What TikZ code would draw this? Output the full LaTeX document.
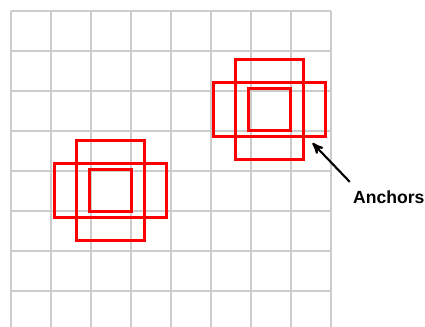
\documentclass[tikz,border=0pt]{standalone}
\usepackage{fontspec}
\setmainfont{Liberation Sans}
\usetikzlibrary{arrows,positioning}

\begin{document}
\begin{tikzpicture}[
    x=0.02cm, y=-0.02cm,
    grid line/.style={draw=black!20, line width=0.6pt},
    box/.style={draw=red, line width=1.3pt, inner sep=0pt},
    tall box/.style={box, minimum width=1.36cm, minimum height=2cm},
    wide box/.style={box, minimum width=2.24cm, minimum height=1.08cm},
    small box/.style={box, minimum width=0.84cm, minimum height=0.84cm},
    pile/.style={line width=1.2pt, ->, >=stealth', shorten <=1pt},
    label text/.style={font=\bfseries\fontsize{10}{12}\selectfont, inner sep=1pt}
    ]
\useasboundingbox (0,0) rectangle (425,327);

\newcommand{\cell}{40}

% grid
\foreach \i in {0,...,8}
    \draw[grid line] (11+\cell*\i,11) -- (11+\cell*\i,327);
\foreach \j in {0,...,7}
    \draw[grid line] (11,11+\cell*\j) -- (331,11+\cell*\j);

% anchors around the left point
\coordinate (left) at (110.5,190.5);
\node[tall box] (lefttall) at (left) {};
\node[wide box] (leftwide) at (left) {};
\node[small box] (leftsmall) at (left) {};

% anchors around the right point
\coordinate (right) at (269.5,109.5);
\node[tall box] (righttall) at (right) {};
\node[wide box] (rightwide) at (right) {};
\node[small box] (rightsmall) at (right) {};

% label
\coordinate (tip) at (312.5,143);
\node[label text, anchor=west] (anchors) at (351,197) {Anchors};
\draw[pile] ([yshift=3pt]anchors.north west) -- (tip);

\end{tikzpicture}
\end{document}
